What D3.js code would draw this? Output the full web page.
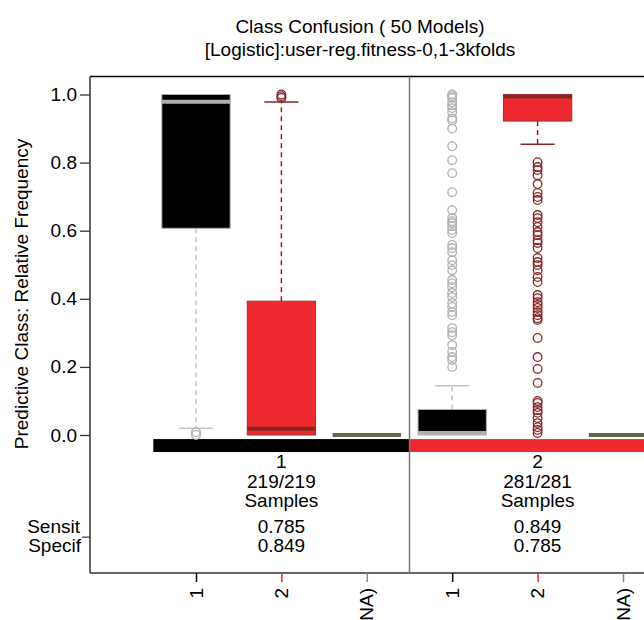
<!DOCTYPE html>
<html>
<head>
<meta charset="utf-8">
<script src="https://cdn.jsdelivr.net/npm/d3@7/dist/d3.min.js"></script>
<style>
  html, body { margin: 0; padding: 0; background: #fff; }
  svg { display: block; }
  text { font-family: "Liberation Sans", Arial, Helvetica, sans-serif; fill: #000; }
</style>
</head>
<body>
<svg id="chart" width="644" height="620"></svg>
<script>
// ---------------- data ----------------
const titleLines = ["Class Confusion ( 50 Models)", "[Logistic]:user-reg.fitness-0,1-3kfolds"];
const yLabel = "Predictive Class: Relative Frequency";
const trueClasses = ["1", "2"];
const sampleCounts = ["219/219", "281/281"];
const sensitivity = ["0.785", "0.849"];
const specificity = ["0.849", "0.785"];
const predictedClasses = ["1", "2", "(NA)"];
const yTicks = [0, 0.2, 0.4, 0.6, 0.8, 1.0];

// box statistics, order: true 1 -> pred 1, 2, NA ; true 2 -> pred 1, 2, NA
const q1Values      = [0.607, 0.000, 0, 0.000, 0.922, 0];
const medianValues  = [0.979, 0.018, 0, 0.004, 0.996, 0];
const q3Values      = [1.000, 0.393, 0, 0.075, 1.000, 0];
const whiskerLow    = [0.020, 0.000, 0, 0.000, 0.854, 0];
const whiskerHigh   = [1.000, 0.978, 0, 0.145, 1.000, 0];

const outliersT1P1 = [0.008, 0.0];
const outliersT1P2 = [1.0, 0.995, 0.99];
const outliersT2P1 = [1.0, 0.995, 0.99, 0.977, 0.968, 0.96, 0.948, 0.93, 0.924, 0.90,
  0.848, 0.807, 0.769, 0.713, 0.66, 0.637, 0.628, 0.622, 0.613, 0.602, 0.593,
  0.558, 0.549, 0.537, 0.513, 0.499, 0.484, 0.455, 0.446, 0.434, 0.417, 0.405,
  0.387, 0.376, 0.361, 0.352, 0.314, 0.302, 0.293, 0.264, 0.244, 0.229, 0.22, 0.2];
const outliersT2P2 = [0.801, 0.787, 0.778, 0.763, 0.737, 0.711, 0.699, 0.69, 0.646,
  0.637, 0.625, 0.611, 0.596, 0.587, 0.572, 0.564, 0.549, 0.52, 0.508, 0.499, 0.484,
  0.464, 0.449, 0.411, 0.402, 0.39, 0.382, 0.373, 0.361, 0.352, 0.343, 0.338, 0.285,
  0.229, 0.194, 0.153, 0.1, 0.094, 0.082, 0.073, 0.065, 0.05, 0.035, 0.023, 0.015, 0.006];
const outlierSets = [outliersT1P1, outliersT1P2, [], outliersT2P1, outliersT2P2, []];

// ---------------- styles ----------------
const classStyle = {
  "1":    { fill: "#000000", border: "#b0b0b0", median: "#b0b0b0", whisker: "#c4c4c4", point: "#b0b0b0", tick: "#000000" },
  "2":    { fill: "#ee2a30", border: "#9a3434", median: "#8b2525", whisker: "#8b2525", point: "#8b2525", tick: "#ee2a30" },
  "(NA)": { fill: "#66664a", border: "#66664a", median: "#66664a", whisker: "#66664a", point: "#66664a", tick: "#8a8a6a" }
};
const groupFill = ["#000000", "#ee2a30"];

// ---------------- layout ----------------
const svg = d3.select("#chart");
const FS = 19;
const plotLeft = 90, plotTop = 76.5, plotBottom = 573;

const y = d3.scaleLinear().domain([0, 1]).range([435, 94.5]);
const x = d3.scaleLinear().domain([1, 6]).range([196, 623]);
const step = x(2) - x(1);
const boxW = step * 0.8;

// Title
svg.selectAll("text.title").data(titleLines).enter().append("text")
  .attr("class", "title")
  .attr("x", 360).attr("y", (d, i) => 32.5 + i * 23.5)
  .attr("text-anchor", "middle").style("font-size", FS + "px")
  .text(d => d);

// Group colour bars
trueClasses.forEach((g, gi) => {
  const a = x(gi * 3 + 0.5), b = x(gi * 3 + 3.5);
  svg.append("rect")
    .attr("x", a).attr("y", y(-0.012))
    .attr("width", b - a).attr("height", y(-0.05) - y(-0.012))
    .attr("fill", groupFill[gi]);
});

// Boxes
const boxes = [];
trueClasses.forEach((g, gi) => predictedClasses.forEach((p, pi) => {
  boxes.push({ idx: gi * 3 + pi, pos: gi * 3 + pi + 1, cls: p });
}));

const gBox = svg.append("g");
boxes.forEach(b => {
  const st = classStyle[b.cls];
  const cx = x(b.pos);
  const q1 = q1Values[b.idx], q3 = q3Values[b.idx], med = medianValues[b.idx];
  const lo = whiskerLow[b.idx], hi = whiskerHigh[b.idx];
  const capW = boxW / 2;
  if (hi > q3) {
    gBox.append("line").attr("x1", cx).attr("x2", cx).attr("y1", y(q3)).attr("y2", y(hi))
      .attr("stroke", st.whisker).attr("stroke-width", 1.5).attr("stroke-dasharray", "5,4");
    gBox.append("line").attr("x1", cx - capW / 2).attr("x2", cx + capW / 2).attr("y1", y(hi)).attr("y2", y(hi))
      .attr("stroke", st.whisker).attr("stroke-width", 1.5);
  }
  if (lo < q1) {
    gBox.append("line").attr("x1", cx).attr("x2", cx).attr("y1", y(q1)).attr("y2", y(lo))
      .attr("stroke", st.whisker).attr("stroke-width", 1.5).attr("stroke-dasharray", "5,4");
    gBox.append("line").attr("x1", cx - capW / 2).attr("x2", cx + capW / 2).attr("y1", y(lo)).attr("y2", y(lo))
      .attr("stroke", st.whisker).attr("stroke-width", 1.5);
  }
  if (q3 > q1) {
    gBox.append("rect").attr("x", cx - boxW / 2).attr("y", y(q3))
      .attr("width", boxW).attr("height", y(q1) - y(q3))
      .attr("fill", st.fill).attr("stroke", st.border).attr("stroke-width", 1);
  }
  const medY = Math.min(Math.max(y(med), y(q3) + 2), y(q1) - 2);
  gBox.append("line").attr("x1", cx - boxW / 2).attr("x2", cx + boxW / 2)
    .attr("y1", q3 > q1 ? medY : y(med)).attr("y2", q3 > q1 ? medY : y(med))
    .attr("stroke", st.median).attr("stroke-width", 4);
  gBox.selectAll(null).data(outlierSets[b.idx]).enter().append("circle")
    .attr("cx", cx).attr("cy", d => y(d)).attr("r", 4.3)
    .attr("fill", "none").attr("stroke", st.point).attr("stroke-width", 1.3);
});

// Frame
svg.append("line").attr("x1", plotLeft).attr("x2", 644).attr("y1", plotTop).attr("y2", plotTop)
  .attr("stroke", "#000").attr("stroke-width", 1.5);
svg.append("line").attr("x1", plotLeft).attr("x2", plotLeft).attr("y1", plotTop).attr("y2", plotBottom)
  .attr("stroke", "#333").attr("stroke-width", 1.5);
svg.append("line").attr("x1", plotLeft).attr("x2", 644).attr("y1", plotBottom).attr("y2", plotBottom)
  .attr("stroke", "#333").attr("stroke-width", 1.5);
svg.append("line").attr("x1", x(3.5)).attr("x2", x(3.5)).attr("y1", plotTop).attr("y2", plotBottom)
  .attr("stroke", "#777").attr("stroke-width", 1.5);

// Y axis
const yAxis = svg.append("g").attr("transform", `translate(${plotLeft},0)`)
  .call(d3.axisLeft(y).tickValues(yTicks).tickSize(10).tickPadding(3).tickFormat(d3.format(".1f")));
yAxis.select(".domain").remove();
yAxis.selectAll(".tick line").attr("stroke", "#333").attr("stroke-width", 1.3);
yAxis.selectAll(".tick text").style("font-size", FS + "px")
  .style("font-family", '"Liberation Sans", Arial, Helvetica, sans-serif').attr("fill", "#000");

// Y label
svg.append("text")
  .attr("transform", `translate(28,294) rotate(-90)`)
  .attr("text-anchor", "middle").style("font-size", FS + "px")
  .text(yLabel);

// Sensit / Specif tick and labels
const metricY = y(-0.3);
svg.append("line").attr("x1", plotLeft - 8).attr("x2", plotLeft).attr("y1", metricY).attr("y2", metricY)
  .attr("stroke", "#333").attr("stroke-width", 1.2);
svg.append("text").attr("x", 80).attr("y", metricY - 4.5).attr("text-anchor", "end")
  .style("font-size", FS + "px").text("Sensit");
svg.append("text").attr("x", 81).attr("y", metricY + 14.5).attr("text-anchor", "end")
  .style("font-size", FS + "px").text("Specif");

// Group texts
trueClasses.forEach((g, gi) => {
  const cx = x(gi * 3 + 2);
  const lines = [
    [g, 468], [sampleCounts[gi], 487.5], ["Samples", 507],
    [sensitivity[gi], metricY - 4.5], [specificity[gi], metricY + 14.5]
  ];
  lines.forEach(([t, yy]) => {
    svg.append("text").attr("x", cx).attr("y", yy).attr("text-anchor", "middle")
      .style("font-size", FS + "px").text(t);
  });
});

// X axis
const xTickVals = d3.range(1, 7);
const xAxis = svg.append("g").attr("transform", `translate(0,${plotBottom})`)
  .call(d3.axisBottom(x).tickValues(xTickVals).tickSize(9).tickFormat(""));
xAxis.select(".domain").remove();
xAxis.selectAll(".tick line")
  .attr("stroke", d => classStyle[predictedClasses[(d - 1) % 3]].tick).attr("stroke-width", 1.5);
svg.selectAll("text.xlab").data(xTickVals).enter().append("text")
  .attr("class", "xlab")
  .attr("transform", d => `translate(${x(d)},${plotBottom + 15}) rotate(-90)`)
  .attr("text-anchor", "end").attr("dy", "0.35em")
  .style("font-size", FS + "px")
  .text(d => predictedClasses[(d - 1) % 3]);
</script>
</body>
</html>
